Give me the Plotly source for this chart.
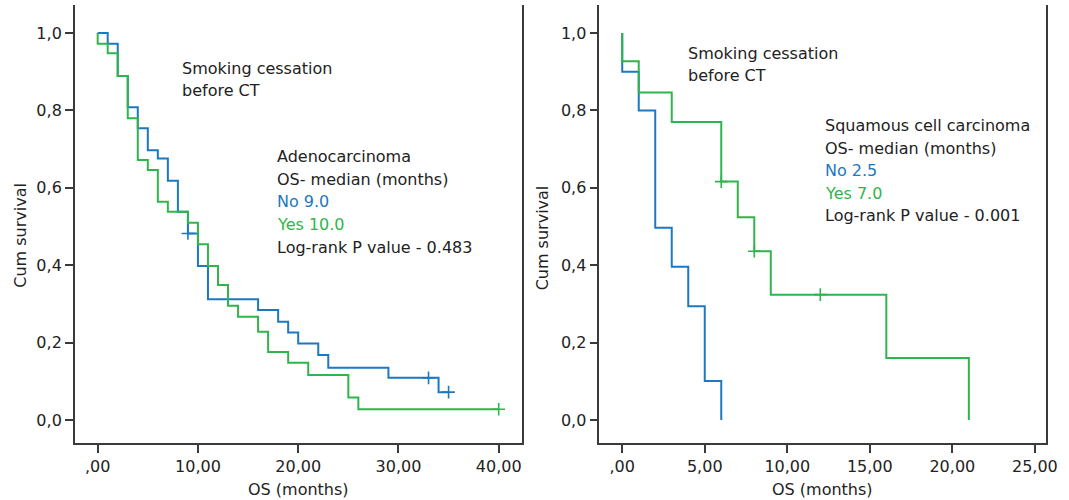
import plotly.graph_objects as go

# ---------------- data ----------------
# Left panel: Adenocarcinoma
adeno_no_t = [0, 1, 2, 3, 4, 5, 6, 7, 8, 9, 10, 11, 16, 18, 19, 20, 22, 23, 29, 34, 35]
adeno_no_s = [1.0, 0.972, 0.889, 0.808, 0.754, 0.697, 0.676, 0.618, 0.538, 0.482, 0.398,
              0.312, 0.284, 0.254, 0.226, 0.198, 0.168, 0.135, 0.109, 0.072, 0.072]
adeno_no_cens_t = [9, 33, 35]
adeno_no_cens_s = [0.482, 0.109, 0.072]

adeno_yes_t = [0, 0, 1, 2, 3, 4, 5, 6, 7, 9, 10, 11, 12, 13, 14, 16, 17, 19, 21, 25, 26, 40]
adeno_yes_s = [1.0, 0.972, 0.948, 0.889, 0.780, 0.672, 0.646, 0.564, 0.538, 0.510, 0.454,
               0.398, 0.349, 0.295, 0.267, 0.228, 0.176, 0.148, 0.116, 0.058, 0.028, 0.028]
adeno_yes_cens_t = [40]
adeno_yes_cens_s = [0.028]

# Right panel: Squamous cell carcinoma
sq_no_t = [0, 0, 1, 2, 3, 4, 5, 6]
sq_no_s = [1.0, 0.90, 0.80, 0.497, 0.396, 0.294, 0.101, 0.0]

sq_yes_t = [0, 0, 1, 3, 6, 7, 8, 9, 16, 21]
sq_yes_s = [1.0, 0.927, 0.846, 0.770, 0.616, 0.524, 0.436, 0.324, 0.160, 0.0]
sq_yes_cens_t = [6, 8, 12]
sq_yes_cens_s = [0.616, 0.436, 0.324]

y_tick_vals = [0.0, 0.2, 0.4, 0.6, 0.8, 1.0]
y_tick_text = ["0,0", "0,2", "0,4", "0,6", "0,8", "1,0"]
x1_tick_vals = [0, 10, 20, 30, 40]
x1_tick_text = [",00", "10,00", "20,00", "30,00", "40,00"]
x2_tick_vals = [0, 5, 10, 15, 20, 25]
x2_tick_text = [",00", "5,00", "10,00", "15,00", "20,00", "25,00"]

left_text = ["Adenocarcinoma", "OS- median (months)", "No 9.0", "Yes 10.0",
             "Log-rank P value - 0.483"]
right_text = ["Squamous cell carcinoma", "OS- median (months)", "No 2.5", "Yes 7.0",
              "Log-rank P value - 0.001"]
header_text = ["Smoking cessation", "before CT"]

# ---------------- style ----------------
BLUE = "#1c78c0"
GREEN = "#30b54c"
TXT = "#222222"
AXC = "#3a3a3a"
FONT = "DejaVu Sans"
W, H = 1069, 500
MT, MB = 5, 57

fig = go.Figure()


def step(x, y, color, xa, ya):
    fig.add_trace(go.Scatter(x=x, y=y, mode="lines", line=dict(color=color, width=2, shape="hv"),
                             xaxis=xa, yaxis=ya, showlegend=False, hoverinfo="skip"))


def cens(x, y, color, xa, ya):
    fig.add_trace(go.Scatter(x=x, y=y, mode="markers",
                             marker=dict(symbol="cross-thin", size=9, line=dict(color=color, width=1.6)),
                             xaxis=xa, yaxis=ya, showlegend=False, hoverinfo="skip"))


step(adeno_no_t, adeno_no_s, BLUE, "x", "y")
step(adeno_yes_t, adeno_yes_s, GREEN, "x", "y")
cens(adeno_no_cens_t, adeno_no_cens_s, BLUE, "x", "y")
cens(adeno_yes_cens_t, adeno_yes_cens_s, GREEN, "x", "y")

step(sq_no_t, sq_no_s, BLUE, "x2", "y2")
step(sq_yes_t, sq_yes_s, GREEN, "x2", "y2")
cens(sq_yes_cens_t, sq_yes_cens_s, GREEN, "x2", "y2")

yrange = [-0.0594, 1.0724]
ax_common = dict(showgrid=False, zeroline=False, showline=True, linecolor=AXC, linewidth=1.8,
                 ticks="outside", ticklen=8, tickwidth=1.6, tickcolor=AXC,
                 tickfont=dict(family=FONT, size=16, color=TXT))

fig.update_layout(
    width=W, height=H,
    margin=dict(l=0, r=0, t=MT, b=MB),
    paper_bgcolor="white", plot_bgcolor="white",
    xaxis=dict(domain=[75.7 / W, 527.3 / W], range=[-2.27, 42.31],
               tickvals=x1_tick_vals, ticktext=x1_tick_text, anchor="y", **ax_common),
    yaxis=dict(domain=[0, 1], range=yrange, tickvals=y_tick_vals, ticktext=y_tick_text,
               anchor="x", mirror=True, **ax_common),
    xaxis2=dict(domain=[605.7 / W, 1057.3 / W], range=[-1.379, 25.70],
                tickvals=x2_tick_vals, ticktext=x2_tick_text, anchor="y2", **ax_common),
    yaxis2=dict(domain=[0, 1], range=yrange, tickvals=y_tick_vals, ticktext=y_tick_text,
                anchor="x2", mirror=True, **ax_common),
)

PH = H - MT - MB


def px(xp, yp):
    return xp / W, (H - MB - yp) / PH


def note(text, xp, yp, color=TXT, size=16, anchor="left", angle=0):
    x, y = px(xp, yp)
    fig.add_annotation(text=text, x=x, y=y, xref="paper", yref="paper", showarrow=False,
                       xanchor=anchor, yanchor="middle", textangle=angle,
                       font=dict(family=FONT, size=size, color=color))


# header texts
for i, t in enumerate(header_text):
    note(t, 181.5, 68 + 22.5 * i)
    note(t, 693, 53 + 22.5 * i)

colors = [TXT, TXT, BLUE, GREEN, TXT]
for i, t in enumerate(left_text):
    note(t, 277.5, 156.5 + 22.7 * i, color=colors[i])
for i, t in enumerate(right_text):
    note(t, 832, 125.5 + 22.6 * i, color=colors[i])

# axis titles
note("OS (months)", 301.5, 490, anchor="center")
note("OS (months)", 831.5, 490, anchor="center")
note("Cum survival", 20, 235, anchor="center", angle=-90)
note("Cum survival", 548, 238, anchor="center", angle=-90)

fig.write_html("out.html", config={"displayModeBar": False},
               post_script="document.body.style.margin='0';document.body.style.overflow='hidden';")
